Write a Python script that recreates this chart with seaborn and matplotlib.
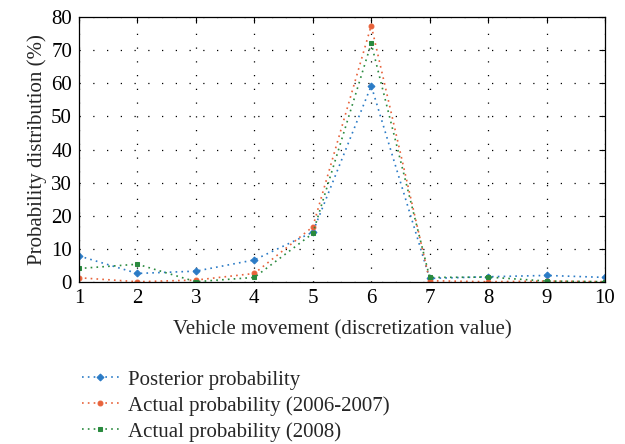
import matplotlib
matplotlib.use("Agg")
import matplotlib.pyplot as plt
import seaborn as sns
import pandas as pd

x_vals = [1, 2, 3, 4, 5, 6, 7, 8, 9, 10]
posterior = [7.8, 2.5, 3.2, 6.6, 15.0, 59.3, 1.0, 1.5, 1.9, 1.3]
actual_0607 = [1.2, 0.0, 0.5, 2.5, 16.6, 77.5, 0.3, 0.0, 0.2, 0.0]
actual_2008 = [4.0, 5.3, 0.0, 1.3, 14.6, 72.1, 1.3, 1.4, 0.2, 0.0]
labels = ["Posterior probability", "Actual probability (2006-2007)", "Actual probability (2008)"]
colors = ["#2b7bc6", "#e8623a", "#2a8a3e"]
markers = ["D", "o", "s"]
xticks = list(range(1, 11))
yticks = list(range(0, 81, 10))

sns.set_theme(style="white")
plt.rcParams['font.family'] = ['Liberation Serif', 'DejaVu Serif']

fig = plt.figure(figsize=(6.25, 4.44), dpi=100)
ax = fig.add_axes([0.1264, 0.3655, 0.8416, 0.5955])

for series, lab, col, mk in zip([posterior, actual_0607, actual_2008], labels, colors, markers):
    df = pd.DataFrame({"x": x_vals, "y": series})
    sns.lineplot(data=df, x="x", y="y", ax=ax, color=col, label=lab,
                 linestyle=(0, (1, 2.5)), linewidth=1.2, marker=mk,
                 markersize=3.5, markerfacecolor=col, markeredgecolor=col)

ax.set_xlim(1, 10)
ax.set_ylim(0, 80)
ax.set_xticks(xticks)
ax.set_yticks(yticks)
ax.grid(True, color="black", linestyle=(0, (1, 10)), linewidth=0.9)
for s in ax.spines.values():
    s.set_color("black")
    s.set_linewidth(0.9)
ax.tick_params(direction="in", top=True, right=True, length=4, width=0.8,
               labelsize=15, colors="black", pad=5)
ax.set_xlabel("Vehicle movement (discretization value)", fontsize=15, labelpad=9)
ax.set_ylabel("Probability distribution (%)", fontsize=15, labelpad=3)

h, l = ax.get_legend_handles_labels()
ax.legend_.remove()
fig.legend(h, l, loc="upper left", bbox_to_anchor=(0.118, 0.185), frameon=False,
           fontsize=15, handlelength=1.75, handletextpad=0.45, labelspacing=0.3,
           borderaxespad=0)

fig.savefig("out.png", dpi=100)
